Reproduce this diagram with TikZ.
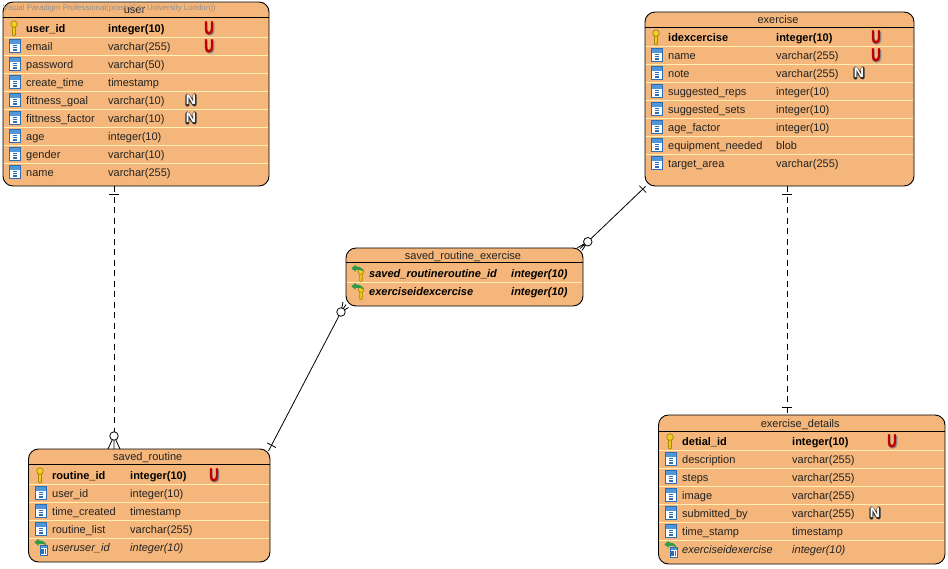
\documentclass[tikz,border=0pt]{standalone}
\usepackage{fontspec}
\setmainfont{Liberation Sans}
\newfontfamily\ufont[FakeBold=3]{Liberation Sans Bold}
\usetikzlibrary{calc}
\definecolor{tblfill}{HTML}{F4B67A}
\definecolor{sepcol}{HTML}{FFEFB0}
\definecolor{txtcol}{HTML}{222222}
\definecolor{iconblue}{HTML}{2A6DB5}
\definecolor{iconlight}{HTML}{4F97DA}
\definecolor{keygold}{HTML}{F7CE17}
\definecolor{keyedge}{HTML}{A88510}
\definecolor{fkgreen}{HTML}{2E9A4A}
\definecolor{ured}{HTML}{BE0000}
\definecolor{wmark}{HTML}{8F8F8F}
\tikzset{
  tablebox/.style={draw=black,line width=0.9pt,fill=tblfill,rounded corners=10pt,inner sep=0pt,outer sep=0pt},
  titletext/.style={font=\fontsize{11}{13}\selectfont,text=txtcol,inner sep=0pt,anchor=base},
  rowplain/.style={font=\fontsize{11}{13}\selectfont,text=txtcol,inner sep=0pt,anchor=base west},
  rowbold/.style={font=\fontsize{11}{13}\selectfont\bfseries,text=black,inner sep=0pt,anchor=base west},
  rowital/.style={font=\fontsize{11}{13}\selectfont\itshape,text=txtcol,inner sep=0pt,anchor=base west},
  rowboldital/.style={font=\fontsize{11}{13}\selectfont\bfseries\itshape,text=black,inner sep=0pt,anchor=base west},
  sepline/.style={draw=sepcol,line width=1pt},
  relsolid/.style={draw=black,line width=0.8pt},
  reldash/.style={draw=black,line width=0.8pt,dash pattern=on 6pt off 4.5pt},
  relmark/.style={draw=black,line width=0.8pt},
  relcircle/.style={draw=black,line width=0.8pt,fill=white,circle,minimum size=8.5pt,inner sep=0pt},
  ubadge/.style={font=\fontsize{18}{18}\ufont,text=ured,inner sep=0pt,anchor=center},
  nbadge/.style={font=\fontsize{14}{14}\selectfont\bfseries,text=white,inner sep=0pt,anchor=center},
}
% icons: (#1,#2) = text start x, row centre y
\newcommand\iconcol[2]{\begin{scope}[shift={(#1,#2)}]
  \fill[white] (-17,-6.5) rectangle (-5,6.5);
  \fill[iconlight] (-17,-6.5) rectangle (-5,-2.5);
  \draw[iconblue,line width=1.1pt] (-16.5,-6.5) rectangle (-5.5,6.5);
  \draw[iconblue,line width=1.3pt] (-13.2,-0.5)--(-8.8,-0.5) (-13.2,1.7)--(-8.8,1.7) (-13.2,3.9)--(-8.8,3.9);
\end{scope}}
\newcommand\keyshape{%
  \draw[keyedge,fill=keygold,line width=0.7pt] (-1.5,-1.6)--(-1.5,7.2)--(0,8)--(1.5,7.2)--(1.5,5.6)--(0.7,5.1)--(1.5,4.4)--(1.5,-1.6)--cycle;
  \draw[keyedge,fill=keygold,line width=0.7pt] (0,-3.9) circle (3.3);
  \fill[white!55!keyedge] (0,-5) circle (0.9);
}
\newcommand\iconkey[2]{\begin{scope}[shift={(#1-12,#2)}]\keyshape\end{scope}}
\newcommand\greenarrow{%
  \fill[fkgreen] (-9.5,-4.6)--(-5.5,-8.4)--(-5.5,-6.6)
     .. controls (-2,-6.8) and (1.5,-5.2) .. (2.6,-1.6)
     .. controls (0.5,-3.6) and (-3,-3.4) .. (-5.5,-3.2)--(-5.5,-1.2)--cycle;
}
\newcommand\iconfkkey[2]{\begin{scope}[shift={(#1-8,#2)}]
  \begin{scope}[shift={(0,1.8)},scale=0.85]\keyshape\end{scope}
  \greenarrow
\end{scope}}
\newcommand\iconfk[2]{\begin{scope}[shift={(#1-8,#2)}]
  \fill[white] (-4,-2) rectangle (3.5,8.5);
  \fill[iconlight] (-4,-2) rectangle (3.5,0.8);
  \draw[iconblue,line width=0.9pt] (-3.6,-2) rectangle (3.2,8.5);
  \draw[iconblue,line width=1.4pt] (-2,2.4)--(-2,7.2) (1.4,2.4)--(1.4,7.2);
  \draw[iconblue,line width=1pt] (-0.3,2.4)--(-0.3,7.2);
  \greenarrow
\end{scope}}
% \entity{id}{x1}{y1}{x2}{y2}{title line y}{first row centre}{name x}{type x}{U x}{N x}{rows}
\newcommand\entity[6]{%
  \node[tablebox,minimum width={#4-#2},minimum height={#5-#3},anchor=north west] (#1) at (#2,#3) {};
  \coordinate (#1-l) at (#2,#6);
  \coordinate (#1-r) at (#4,#6);
  \draw[black,line width=0.9pt] (#1-l)--(#1-r);
  \node[titletext] (#1-title) at ({(#2+#4)/2-1.5},{(#3+#6)/2+4}) {\csname title#1\endcsname};
  \def\curl{#2}\def\curr{#4}\def\curid{#1}%
  \entityrows
}
\newcommand\entityrows[6]{%
  \foreach \ic/\fs/\nm/\ty/\fl [count=\n from 0] in {#6} {
    \pgfmathsetmacro\yc{#1+18*\n}
    \ifnum\n>0
      \draw[sepline] (\curl+0.6,\yc-9)--(\curr-0.6,\yc-9);
    \fi
    \csname icon\ic\endcsname{#2}{\yc}
    \node[\fs] (\curid-n\n) at (#2,\yc+4) {\nm};
    \node[\fs] (\curid-t\n) at (#3,\yc+4) {\ty};
    \ifx\fl\flagU
      \draw[black!45,line width=2.6pt,line cap=butt] (#4-2.6,\yc-5.2)--(#4-2.6,\yc+3) arc[start angle=180,end angle=0,radius=3.3]--(#4+4,\yc-5.2);
      \node[ubadge] (\curid-u\n) at (#4,\yc) {\scalebox{0.72}[1]{U}};
    \fi
    \ifx\fl\flagN
      \draw[black!80,line width=4pt,line join=round,line cap=round] (#5-3.6,\yc+4.6)--(#5-3.6,\yc-4.6)--(#5+3.6,\yc+4.6)--(#5+3.6,\yc-4.6);
      \node[nbadge] (\curid-nn\n) at (#5,\yc) {N};
    \fi
  }
}
\def\flagU{U}\def\flagN{N}
\def\titleuser{user}
\def\titlesr{saved\_routine}
\def\titleex{exercise}
\def\titlesre{saved\_routine\_exercise}
\def\titleed{exercise\_details}
\begin{document}
\begin{tikzpicture}[x=1pt,y=-1pt]
\useasboundingbox (0,0) rectangle (948,568);

\entity{user}{3}{2}{269}{186}{17}{28}{26}{108}{209}{191}{%
 key/rowbold/user\_id/integer(10)/U,
 col/rowplain/email/varchar(255)/U,
 col/rowplain/password/varchar(50)/x,
 col/rowplain/create\_time/timestamp/x,
 col/rowplain/fittness\_goal/varchar(10)/N,
 col/rowplain/fittness\_factor/varchar(10)/N,
 col/rowplain/age/integer(10)/x,
 col/rowplain/gender/varchar(10)/x,
 col/rowplain/name/varchar(255)/x}

\entity{ex}{645}{12}{914}{186}{27}{37}{668}{776}{876}{859}{%
 key/rowbold/idexcercise/integer(10)/U,
 col/rowplain/name/varchar(255)/U,
 col/rowplain/note/varchar(255)/N,
 col/rowplain/suggested\_reps/integer(10)/x,
 col/rowplain/suggested\_sets/integer(10)/x,
 col/rowplain/age\_factor/integer(10)/x,
 col/rowplain/equipment\_needed/blob/x,
 col/rowplain/target\_area/varchar(255)/x}

\entity{sre}{346}{248}{583}{306}{262}{273}{369}{511}{0}{0}{%
 fkkey/rowboldital/saved\_routineroutine\_id/integer(10)/x,
 fkkey/rowboldital/exerciseidexcercise/integer(10)/x}

\entity{sr}{28.5}{449}{270}{562}{464}{475}{52}{130}{214}{0}{%
 key/rowbold/routine\_id/integer(10)/U,
 col/rowplain/user\_id/integer(10)/x,
 col/rowplain/time\_created/timestamp/x,
 col/rowplain/routine\_list/varchar(255)/x,
 fk/rowital/useruser\_id/integer(10)/x}

\entity{ed}{658.5}{415}{945}{564}{431}{441}{682}{792}{892}{875}{%
 key/rowbold/detial\_id/integer(10)/U,
 col/rowplain/description/varchar(255)/x,
 col/rowplain/steps/varchar(255)/x,
 col/rowplain/image/varchar(255)/x,
 col/rowplain/submitted\_by/varchar(255)/N,
 col/rowplain/time\_stamp/timestamp/x,
 fk/rowital/exerciseidexercise/integer(10)/x}

% connector: user -- saved_routine
\coordinate (a1) at ($(user.south west)+(111,0)$);
\coordinate (a2) at ($(sr.north west)+(85.5,-13)$);
\draw[reldash] (a1)--(a2);
\draw[relmark] ($(a1)+(-5,8)$)--($(a1)+(5,8)$);
\draw[relmark] (a2)--($(sr.north west)+(79.5,0)$) (a2)--($(sr.north west)+(85.5,0)$) (a2)--($(sr.north west)+(91.5,0)$);
\node[relcircle] (c1) at (a2) {};

% connector: saved_routine -- saved_routine_exercise
\coordinate (b1) at ($(sr.north east)+(-1.5,2)$);
\coordinate (b2) at ($(sre.south west)+(-5,6)$);
\draw[relsolid] (b1)--(b2);
\draw[relmark] ($(b1)!6.5pt!(b2)+(-4.4,-2.3)$)--($(b1)!6.5pt!(b2)+(4.4,2.3)$);
\draw[relmark] (b2)--($(sre.south west)+(-3,-4)$) (b2)--($(sre.south west)+(0,-1.5)$) (b2)--($(sre.south west)+(2.5,1.5)$);
\node[relcircle] (c2) at (b2) {};

% connector: saved_routine_exercise -- exercise
\coordinate (d1) at ($(sre.north east)+(4.8,-6.3)$);
\coordinate (d2) at ($(ex.south west)+(0.5,0.5)$);
\draw[relsolid] (d1)--(d2);
\draw[relmark] ($(d2)!3.8pt!(d1)+(-3.4,-3.4)$)--($(d2)!3.8pt!(d1)+(3.4,3.4)$);
\draw[relmark] (d1)--($(sre.north east)+(-6,0)$) (d1)--($(sre.north east)+(-3,0.5)$) (d1)--($(sre.north east)+(-1,2.5)$);
\node[relcircle] (c3) at (d1) {};

% connector: exercise -- exercise_details
\coordinate (e1) at ($(ex.south west)+(142,0)$);
\coordinate (e2) at ($(ed.north west)+(128.5,0)$);
\draw[reldash] (e1)--(e2);
\draw[relmark] ($(e1)+(-5,8)$)--($(e1)+(5,8)$);
\draw[relmark] ($(e2)+(-5,-8)$)--($(e2)+(5,-8)$);

\node[font=\fontsize{7.9}{10}\selectfont,text=wmark,inner sep=0pt,anchor=base west] (wm) at (3,10) {Visual Paradigm Professional(prash(City University London))};
\end{tikzpicture}
\end{document}
